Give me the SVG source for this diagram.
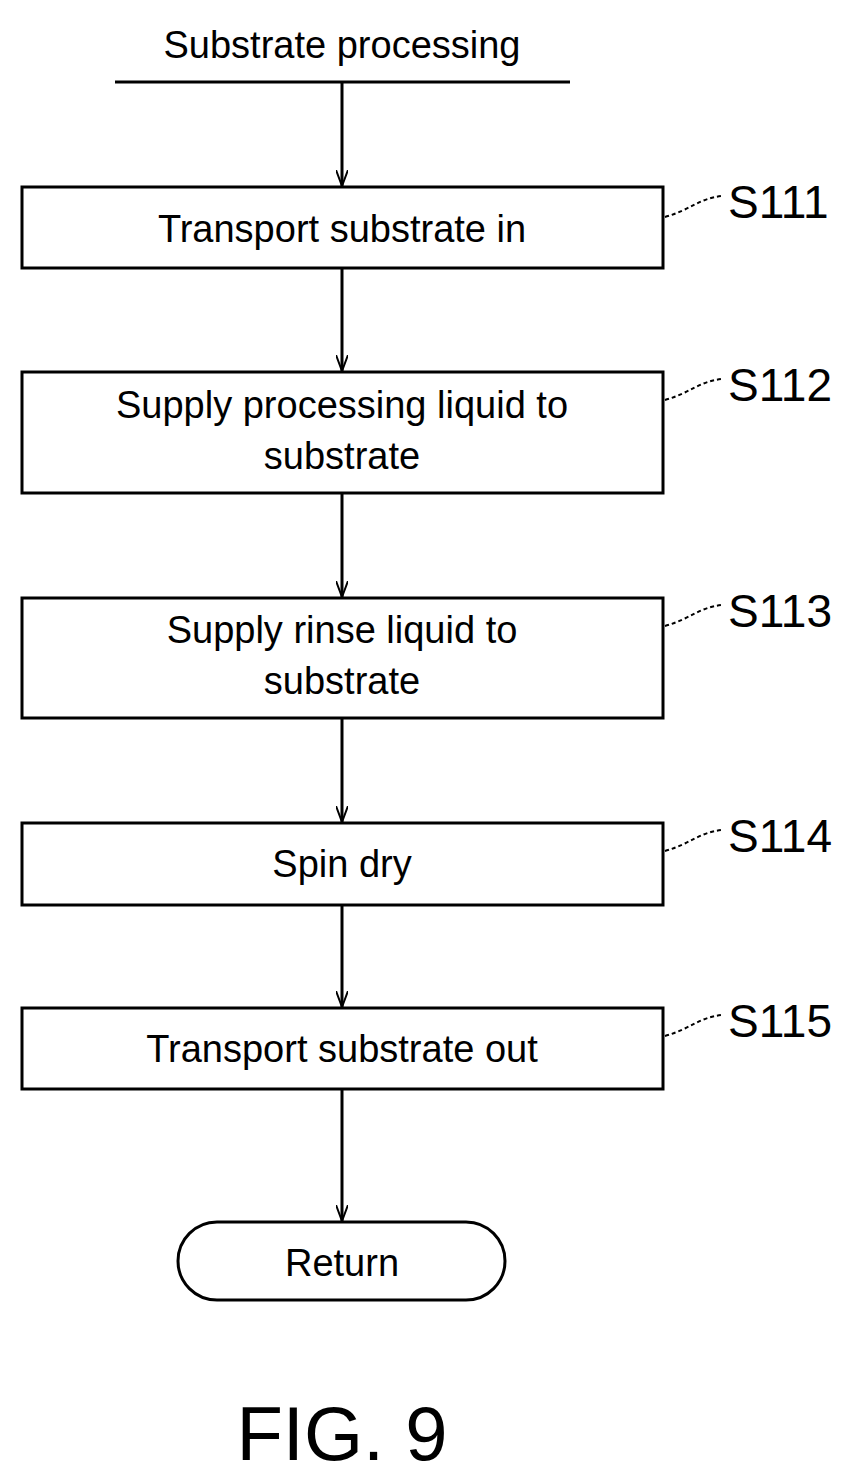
<svg xmlns="http://www.w3.org/2000/svg" width="864" height="1481" viewBox="0 0 864 1481">
<defs>
<marker id="ah" markerWidth="16" markerHeight="12" refX="16" refY="6" orient="auto" markerUnits="userSpaceOnUse" viewBox="0 0 16 12"><path d="M0,0 L16,6 L0,12" fill="none" stroke="#000" stroke-width="2"/></marker>
</defs>
<style>
.box{fill:#fff;stroke:#000;stroke-width:3}
.t{font-family:"Liberation Sans",Arial,sans-serif;font-size:38px;text-anchor:middle;fill:#000}
.lbl{font-family:"Liberation Sans",Arial,sans-serif;font-size:46px;fill:#000}
.c{stroke:#000;stroke-width:3;fill:none}
.ld{stroke:#000;stroke-width:2;fill:none;stroke-dasharray:4 3}
</style>
<text class="t" x="342" y="58">Substrate processing</text>
<line class="c" x1="115" y1="82" x2="570" y2="82"/>
<g id="connectors">
<line class="c" x1="342" y1="82" x2="342" y2="186" marker-end="url(#ah)"/>
<line class="c" x1="342" y1="268" x2="342" y2="371" marker-end="url(#ah)"/>
<line class="c" x1="342" y1="493" x2="342" y2="597" marker-end="url(#ah)"/>
<line class="c" x1="342" y1="718" x2="342" y2="822" marker-end="url(#ah)"/>
<line class="c" x1="342" y1="905" x2="342" y2="1007" marker-end="url(#ah)"/>
<line class="c" x1="342" y1="1089" x2="342" y2="1221" marker-end="url(#ah)"/>
<path class="ld" d="M665,217 C690,210 700,198 722,196"/>
<path class="ld" d="M665,400 C690,393 700,381 722,379"/>
<path class="ld" d="M665,626 C690,619 700,607 722,605"/>
<path class="ld" d="M665,851 C690,844 700,832 722,830"/>
<path class="ld" d="M665,1036 C690,1029 700,1017 722,1015"/>
</g>
<g id="s111"><rect class="box" x="22" y="187" width="641" height="81"/><text class="t" x="342" y="242">Transport substrate in</text><text class="lbl" x="728" y="218">S111</text></g>
<g id="s112"><rect class="box" x="22" y="372" width="641" height="121"/><text class="t" x="342" y="418">Supply processing liquid to</text><text class="t" x="342" y="469">substrate</text><text class="lbl" x="728" y="401">S112</text></g>
<g id="s113"><rect class="box" x="22" y="598" width="641" height="120"/><text class="t" x="342" y="643">Supply rinse liquid to</text><text class="t" x="342" y="694">substrate</text><text class="lbl" x="728" y="627">S113</text></g>
<g id="s114"><rect class="box" x="22" y="823" width="641" height="82"/><text class="t" x="342" y="877">Spin dry</text><text class="lbl" x="728" y="852">S114</text></g>
<g id="s115"><rect class="box" x="22" y="1008" width="641" height="81"/><text class="t" x="342" y="1062">Transport substrate out</text><text class="lbl" x="728" y="1037">S115</text></g>
<g id="return"><rect class="box" x="178" y="1222" width="327" height="78" rx="39"/><text class="t" x="342" y="1276">Return</text></g>
<text x="342" y="1460" style="font-family:'Liberation Sans',Arial,sans-serif;font-size:76px;text-anchor:middle">FIG. 9</text>
</svg>
